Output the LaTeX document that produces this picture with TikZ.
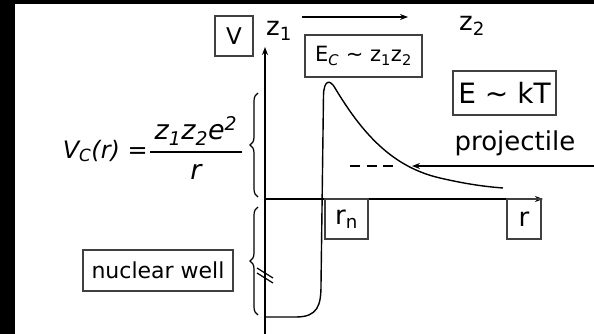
\documentclass[tikz,border=0pt]{standalone}
\usepackage{fontspec}
\setmainfont{DejaVu Sans}
\usetikzlibrary{arrows.meta,decorations.pathreplacing}
\tikzset{
  lbl/.style={inner sep=0pt, font=\fontsize{26}{30}\selectfont},
  boxed/.style={draw=black!75, line width=1.1pt, inner sep=0pt, font=\fontsize{21}{24}\selectfont},
  axis/.style={line width=1.3pt, -{Stealth[length=8pt,width=6pt]}},
  curve/.style={line width=1.4pt},
  brc/.style={line width=1.2pt, decorate, decoration={brace, amplitude=8pt, raise=0pt}},
  fml/.style={inner sep=0pt, font=\fontsize{27}{30}\selectfont\itshape},
}
\begin{document}
\begin{tikzpicture}[x=1pt,y=-1pt]
\useasboundingbox (0,0) rectangle (594,334);
\fill[white] (0,0) rectangle (594,334);
\fill[black] (0,0) rectangle (15,334);
\fill[black] (0,0) rectangle (594,4);
% coordinates
\coordinate (vbot) at (265,334);
\coordinate (vtop) at (265,47);
\coordinate (o) at (265,199);
\coordinate (rend) at (543,199);
\coordinate (za) at (302,17);
\coordinate (zb) at (408,17);
\coordinate (pstart) at (594,166);
\coordinate (ptip) at (412,166);
\coordinate (da) at (350,166);
\coordinate (db) at (393,166);
% axes
\draw[axis] (vbot) -- (vtop);
\draw[axis] (o) -- (rend);
\draw[axis, line width=1.2pt] (za) -- (zb);
% potential curve
\draw[curve] (265,317) -- (296,317) .. controls (318,317) and (321,305) .. (321,285)
  -- (323.5,95) .. controls (324,80) and (330,79) .. (335,88)
  .. controls (362,133) and (392,167) .. (440,178)
  .. controls (470,185) and (490,187) .. (503,188);
% dashed level and projectile arrow
\draw[line width=1.4pt, dash pattern=on 10pt off 6.5pt] (da) -- (db);
\draw[axis, line width=1.2pt] (pstart) -- (ptip);
% braces
\draw[brc] (258,197) -- (258,93);
\draw[brc] (258,315) -- (258,207);
% break marks
\draw[line width=1.2pt] (257,268) -- (273,278);
\draw[line width=1.2pt] (257,273) -- (273,283);
% boxes
\node[boxed, minimum width=38pt, minimum height=40pt, font=\fontsize{23}{26}\selectfont] (vbox) at (234,36) {V};
\node[boxed, minimum width=117pt, minimum height=42pt] (ecbox) at (363.5,56) {E\textsubscript{\itshape C} \textasciitilde{} z\textsubscript{1}z\textsubscript{2}};
\node[boxed, minimum width=103pt, minimum height=44pt, font=\fontsize{28}{32}\selectfont] (ekt) at (504.5,93) {E \textasciitilde{} kT};
\node[boxed, minimum width=43pt, minimum height=40pt, font=\fontsize{26}{30}\selectfont] (rn) at (346.5,219) {r\textsubscript{n}};
\node[boxed, minimum width=34pt, minimum height=40pt, font=\fontsize{26}{30}\selectfont] (rb) at (524,219) {r};
\node[boxed, minimum width=150pt, minimum height=41pt, font=\fontsize{22}{26}\selectfont] (nw) at (158,270.5) {nuclear well};
% labels
\node[lbl] (z1) at (279,31) {z\textsubscript{1}};
\node[lbl] (z2) at (472,26) {z\textsubscript{2}};
\node[lbl] (proj) at (515,143) {projectile};
% formula
\node[fml, anchor=east, font=\fontsize{24}{28}\selectfont\itshape] (vc) at (148,151) {V\textsubscript{C}(r) =};
\node[fml] (num) at (196,131) {z\textsubscript{1}z\textsubscript{2}e\textsuperscript{2}};
\node[fml] (den) at (196,172) {r};
\draw[line width=1.2pt] (150,152) -- (242,152);
\end{tikzpicture}
\end{document}
